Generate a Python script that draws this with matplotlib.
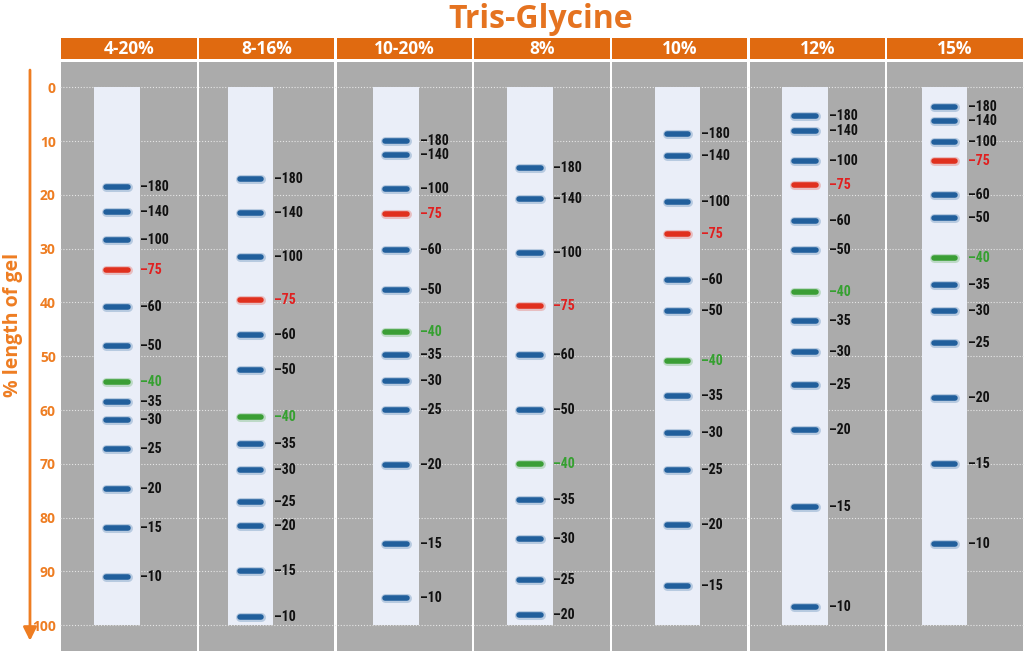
import matplotlib
matplotlib.use('Agg')
import matplotlib.pyplot as plt
from matplotlib.patches import Rectangle
from matplotlib import font_manager as fm

# gel types (column headers)
gels = ['4-20%', '8-16%', '10-20%', '8%', '10%', '12%', '15%']
# marker sizes (kDa) per lane, top to bottom
sizes = {
    '4-20%': ['180', '140', '100', '75', '60', '50', '40', '35', '30', '25', '20', '15', '10'],
    '8-16%': ['180', '140', '100', '75', '60', '50', '40', '35', '30', '25', '20', '15', '10'],
    '10-20%': ['180', '140', '100', '75', '60', '50', '40', '35', '30', '25', '20', '15', '10'],
    '8%': ['180', '140', '100', '75', '60', '50', '40', '35', '30', '25', '20'],
    '10%': ['180', '140', '100', '75', '60', '50', '40', '35', '30', '25', '20', '15'],
    '12%': ['180', '140', '100', '75', '60', '50', '40', '35', '30', '25', '20', '15', '10'],
    '15%': ['180', '140', '100', '75', '60', '50', '40', '35', '30', '25', '20', '15', '10'],
}
# migration distance, % length of gel
migration = {
    '4-20%': [18.5, 23.2, 28.3, 34.0, 40.9, 48.1, 54.8, 58.6, 61.9, 67.3, 74.7, 82.0, 91.1],
    '8-16%': [17.1, 23.4, 31.6, 39.6, 46.1, 52.6, 61.3, 66.4, 71.2, 77.1, 81.6, 90.0, 98.5],
    '10-20%': [10.0, 12.5, 19.0, 23.6, 30.3, 37.7, 45.5, 49.8, 54.6, 60.0, 70.3, 84.9, 95.0],
    '8%': [15.0, 20.8, 30.8, 40.6, 49.8, 60.0, 70.0, 76.8, 84.0, 91.6, 98.1],
    '10%': [8.7, 12.8, 21.4, 27.3, 35.8, 41.6, 50.9, 57.4, 64.3, 71.2, 81.3, 92.8],
    '12%': [5.3, 8.2, 13.7, 18.2, 24.9, 30.2, 38.0, 43.5, 49.3, 55.3, 63.8, 78.0, 96.7],
    '15%': [3.7, 6.2, 10.2, 13.7, 20.1, 24.3, 31.7, 36.8, 41.5, 47.5, 57.7, 70.1, 84.9],
}
yticks = list(range(0, 101, 10))

# layout / style
lane_left = [0.247, 0.218, 0.275, 0.246, 0.318, 0.245, 0.257]
lane_w = 0.331
band_half = 0.078
orange = '#E06A10'
axis_orange = '#EE7D22'
gray = '#ABABAB'
strip_col = '#EAEEF8'
band_col = {'75': '#E0301E', '40': '#3A9E35'}
text_col = {'75': '#E02020', '40': '#35A030'}
blue = '#215F9C'

# narrow font for the band labels, if one is there
label_font = fm.FontProperties(family='DejaVu Sans', weight='bold', stretch='condensed', size=9.5)
for name in ['Liberation Sans Narrow', 'Roboto Condensed']:
    try:
        fm.findfont(fm.FontProperties(family=name, weight='bold'), fallback_to_default=False)
        label_font = fm.FontProperties(family=name, weight='bold', size=10)
        break
    except Exception:
        pass

fig = plt.figure(figsize=(10.24, 6.52), dpi=100)
ax = fig.add_axes([60 / 1024, 1 - 651 / 652, 964 / 1024, 613 / 652])
ax.set_xlim(0, 7)
ax.set_ylim(104.8, -9.16)
for s in ax.spines.values():
    s.set_visible(False)
ax.set_xticks([])
ax.set_yticks(yticks)
ax.set_yticklabels([str(t) for t in yticks], color=axis_orange, fontweight='bold',
                   fontsize=10, family='Open Sans')
ax.tick_params(axis='y', length=0, pad=3)
ax.set_axisbelow(True)
ax.yaxis.grid(True, color='#E6E6E6', linestyle=(0, (1, 1.6)), linewidth=0.8)

gap = 0.008
for i, g in enumerate(gels):
    # gray panel + orange header
    ax.add_patch(Rectangle((i + gap, -4.75), 1 - 2 * gap, 109.6, color=gray, zorder=0.2, lw=0))
    ax.add_patch(Rectangle((i + gap, -9.16), 1 - 2 * gap, 3.95, color=orange, zorder=0.2, lw=0))
    ax.text(i + 0.5, -7.1, g, ha='center', va='center', color='white', fontsize=12.5,
            fontweight='bold', family='Open Sans')
    # lane strip
    x0 = lane_left[i]
    ax.add_patch(Rectangle((i + x0, 0), lane_w, 100, color=strip_col, zorder=1, lw=0))
    xc = i + x0 + lane_w / 2
    for lbl, y in zip(sizes[g], migration[g]):
        c = band_col.get(lbl, blue)
        ax.plot([xc - band_half, xc + band_half], [y, y], color=c, lw=6.5, alpha=0.25,
                solid_capstyle='round', zorder=2)
        ax.plot([xc - band_half, xc + band_half], [y, y], color=c, lw=4.0,
                solid_capstyle='round', zorder=3)
        ax.text(i + x0 + lane_w + 0.005, y, '\u2013' + lbl, ha='left', va='center',
                color=text_col.get(lbl, '#111111'), fontproperties=label_font, zorder=3)

# y axis arrow
ax.annotate('', xy=(-0.218, 102.9), xytext=(-0.218, -3.2), annotation_clip=False,
            arrowprops=dict(arrowstyle='-|>', color=axis_orange, lw=2, mutation_scale=20,
                            shrinkA=0, shrinkB=0))
fig.text(13 / 1024, 1 - 325 / 652, '% length of gel', rotation=90, ha='center', va='center',
         color=axis_orange, fontsize=14, fontweight='bold', family='Open Sans')
fig.text(541 / 1024, 1 - 19 / 652, 'Tris-Glycine', ha='center', va='center',
         color='#E57320', fontsize=23, fontweight='bold', family='Open Sans')

fig.savefig('out.png', dpi=100)
